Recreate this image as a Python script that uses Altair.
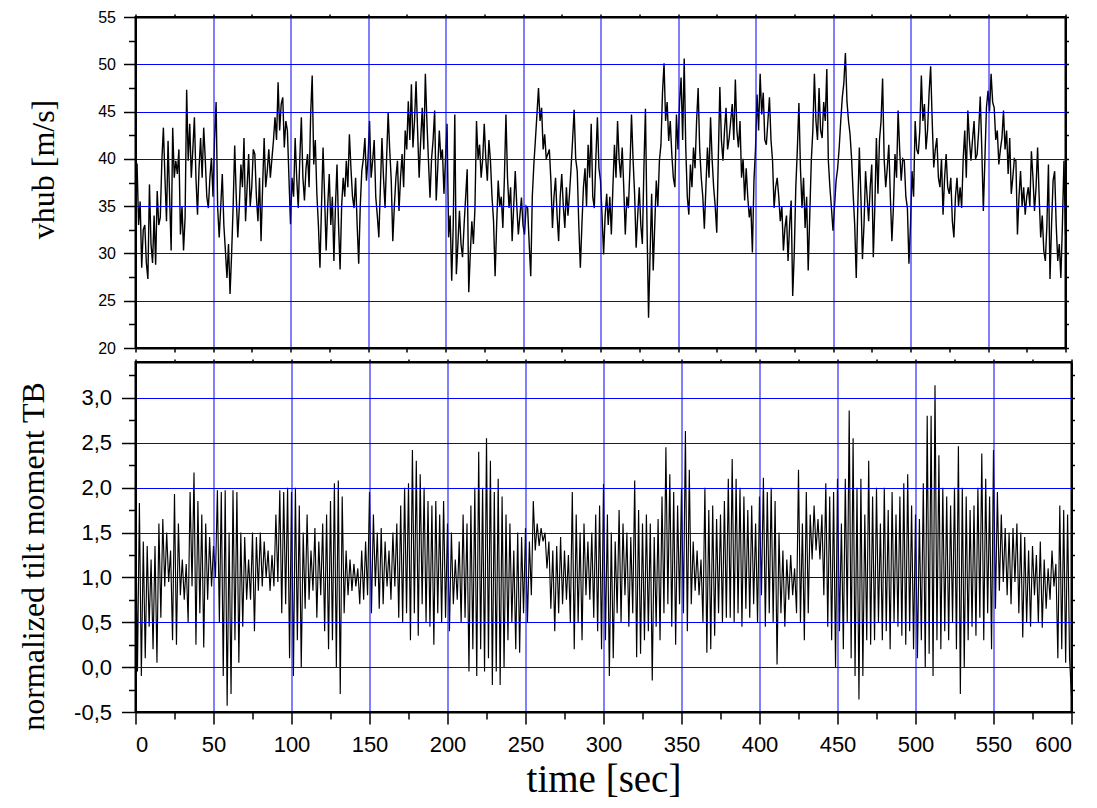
import altair as alt
import pandas as pd

# ---------------- data ----------------
# hub wind speed [m/s], one value per second (0 ... 600 s), ten values per row
vhub_dt = 1.0
vhub = [
    37.5, 39.5, 33, 35.5, 28.5, 32.5, 33, 29, 27.3, 37.3,          # 0
    31, 29, 34, 28.8, 36.6, 33, 33.8, 39.8, 43.3, 38,
    33.4, 41.9, 36, 30.3, 43.3, 38, 39.8, 38.4, 41, 32,
    35, 30.3, 33.8, 47.3, 39.8, 43.7, 38, 41, 44.4, 38,
    34.1, 39, 42.2, 38, 43.3, 40, 36, 34.8, 38, 40.1,
    36, 42, 46, 34.8, 31.7, 35, 38.4, 33, 30.3, 27.4,              # 50
    31, 25.7, 29.9, 35, 41.4, 36, 31.7, 35, 39.4, 37,
    42.2, 33.4, 37, 40.5, 35, 37, 41, 40.5, 36, 33.4,
    38, 31.3, 37, 42.2, 37, 38.7, 41, 38, 40, 41.9,
    44.4, 42, 48.1, 43, 45.8, 46.5, 41.2, 44, 43, 38,
    33.1, 38, 36, 42.2, 38, 34.8, 40, 44.4, 38, 35.6,              # 100
    39, 40.5, 37, 44.7, 48.8, 39.4, 42, 36.3, 33, 28.5,
    35, 41.2, 36, 30.3, 35, 38.4, 33, 36, 29.2, 35,
    39.4, 33, 28.3, 35, 38, 36, 39.8, 37, 42.6, 39,
    36, 34.8, 38, 33, 28.9, 35, 38.7, 40, 42.2, 37.7,
    40, 44, 38, 39.8, 42, 36, 34, 31.7, 37, 42.2,                  # 150
    38, 34.8, 40, 44.9, 41, 37.7, 31.3, 35, 38, 39.8,
    34.5, 38, 40.5, 37, 43, 41, 46.1, 42, 47.9, 41.2,
    44, 48.2, 43, 38, 42, 45.4, 41, 49, 44, 39.8,
    35.9, 40, 42, 45.1, 35.6, 39, 43, 40, 41, 36.3,
    40, 43.7, 31.7, 34, 27.1, 33, 44.7, 27.8, 31, 34.5,            # 200
    31, 29.6, 33, 36, 38.9, 25.9, 30, 33.4, 31, 34.8,
    44, 40, 41.5, 38, 40, 43.7, 40, 37.7, 42, 39.8,
    36, 33.4, 27.6, 33, 37.7, 35, 36, 32.7, 38, 44.7,
    38, 34.8, 37, 31.3, 35, 38.7, 35, 32, 34, 35.9,
    33, 32, 35, 34.8, 31, 27.6, 36, 39.4, 42, 44.7,                # 250
    47.5, 44, 45.4, 41, 42.6, 40, 40.5, 41, 37.7, 32.7,
    36, 38, 34, 31.3, 36, 38.4, 35, 32.7, 37, 34,
    36.3, 39, 42, 45.2, 40, 38.7, 33, 28.5, 33, 37,
    39, 35, 41.5, 38, 43.7, 36, 34.8, 40, 44.4, 39,
    37.7, 34, 29.9, 34, 36.3, 33, 36, 32, 37, 41.5,                # 300
    38, 44, 40, 38, 41.2, 37, 32, 36, 34.8, 39,
    44.7, 40, 36.3, 30.6, 34, 37, 33, 31, 39, 45.3,
    33, 23.2, 30, 36.3, 28.2, 33, 37.7, 35, 39.8, 41.5,
    47, 50.1, 44, 46, 41.9, 44, 40.5, 38, 37, 44.7,
    41, 46, 48.6, 42, 50.6, 41.2, 36, 34.1, 39.4, 37,              # 350
    41.2, 39, 44, 47.5, 41, 38, 36, 32.6, 37, 41.2,
    38, 44.4, 40, 37, 35, 32.2, 40, 47.6, 42, 39.8,
    43, 45.4, 41, 42.2, 44, 45.8, 42, 48.4, 43, 41.2,
    44, 38, 40, 35.6, 39, 36, 33.8, 35, 30.1, 37.7,
    41, 46.8, 43, 49, 44.7, 47, 42, 41.5, 44, 46.5,                # 400
    42, 39.8, 34.8, 37, 38, 36, 33.4, 35, 30.3, 32.7,
    34, 29.2, 33, 35.6, 25.5, 30, 37, 41, 45.9, 39,
    34.8, 38, 32.7, 36, 28.2, 34, 39.8, 43, 49, 44,
    42, 47.5, 43, 42.2, 46, 44, 49.5, 39.8, 37, 34.8,
    32.4, 35, 37.7, 39, 41.2, 44, 46.5, 48, 51.2, 46.1,            # 450
    44, 42.6, 40, 36.3, 33, 27.4, 35, 41.2, 36, 29.4,
    33, 38.7, 36, 33.4, 37, 39.4, 29.6, 35, 42.2, 36.3,
    42, 44, 48.5, 40, 37, 39, 41.5, 36, 31.3, 35,
    40.5, 38, 45.1, 41, 37.7, 40, 39.8, 36, 34.8, 28.9,
    33, 38.7, 36, 44, 41, 40.5, 43, 48.8, 44, 45.8,                # 500
    41, 43, 47, 49.8, 44, 39.1, 41, 42.2, 38, 37,
    40, 34.1, 38, 40.5, 37, 36.3, 38, 33.4, 31.7, 36,
    38, 35, 37, 34.8, 40, 43, 38, 45.1, 42, 39.8,
    42, 44, 40, 40.5, 43, 46.6, 41, 34.5, 40, 45.4,
    47.2, 45, 49, 46, 45.4, 42, 43, 39.4, 41, 42.2,                # 550
    45.1, 41, 43, 38.4, 42.2, 36.3, 38, 40, 39.8, 32,
    36, 38.7, 35, 37, 34.1, 36, 37, 35, 40.8, 38,
    34.5, 37, 41.2, 36, 31.7, 34, 30.3, 29.2, 33, 39.4,
    27.3, 33, 37.7, 38.7, 33, 29.2, 31, 27.4, 33, 39.8,
    32,                                                            # 600
]

# normalized tilt moment TB, one value every 1.25 s (alternating peaks / troughs)
tilt_dt = 1.25
tilt = [
    1.95, -0.05, 1.83, -0.1, 1.4, 0.1, 1.35, 0.45,      # 0-10
    1.2, 0.2, 1.35, 0.05, 1.6, 0.55, 1.65, 0.9,
    1.5, 0.95, 1.3, 0.3, 1.93, 0.25, 1.6, 0.8,
    1.2, 0.75, 1.15, 0.5, 1.95, 0.9, 2.17, 0.25,
    1.85, 0.6, 1.7, 0.22, 1.6, 0.75, 1.45, 0.9,
    1.35, 1.0, 1.97, 0.5, 1.95, -0.1, 1.97, -0.43,      # 50-60
    1.5, -0.3, 1.97, 0.3, 1.95, 0.05, 1.5, 0.45,
    1.45, 0.75, 1.2, 0.75, 1.5, 0.4, 1.45, 0.85,
    1.5, 0.9, 1.4, 1.0, 1.3, 0.85, 1.25, 0.9,
    1.7, 0.95, 1.97, 0.6, 1.95, 0.7, 2.0, 0.1,
    1.95, -0.1, 2.0, 0.3, 1.8, 0.0, 1.5, 0.65,          # 100-110
    1.7, 0.75, 1.3, 0.85, 1.55, 0.55, 1.4, 0.8,
    1.6, 0.4, 1.7, 0.2, 1.85, 0.3, 2.05, 0.0,
    2.08, -0.3, 1.9, 0.6, 1.3, 0.8, 1.2, 0.85,
    1.15, 0.9, 1.1, 0.7, 1.3, 0.75, 1.4, 0.8,
    1.95, 0.6, 1.7, 0.9, 1.5, 0.65, 1.55, 0.7,          # 150-160
    1.4, 0.9, 1.3, 0.75, 1.5, 0.9, 1.6, 0.55,
    1.8, 0.5, 2.0, 0.6, 2.05, 0.3, 2.42, 0.6,
    2.3, 0.35, 2.15, 0.7, 2.0, 0.5, 1.85, 0.45,
    1.8, 0.25, 1.85, 0.6, 1.7, 0.5, 1.85, 0.55,
    1.6, 0.4, 1.5, 0.7, 1.2, 0.75, 1.4, 0.5,            # 200-210
    1.7, 0.55, 1.6, -0.05, 1.8, 0.2, 2.0, -0.1,
    2.4, 0.2, 2.0, -0.05, 2.55, 0.1, 2.3, -0.2,
    1.95, -0.05, 2.1, -0.2, 1.9, 0.0, 1.7, 0.3,
    1.6, 0.5, 1.3, 0.2, 1.5, 0.16, 1.45, 0.6,
    1.55, 0.5, 1.4, 0.8, 1.85, 1.3, 1.6, 1.35,          # 250-260
    1.55, 1.4, 1.5, 1.1, 1.4, 0.65, 1.3, 0.4,
    1.35, 0.6, 1.45, 0.7, 1.3, 0.75, 1.25, 0.5,
    1.95, 0.2, 1.7, 0.5, 1.5, 0.3, 1.6, 0.8,
    1.4, 0.75, 1.5, 0.55, 1.7, 0.4, 1.8, 0.2,
    2.04, 0.3, 1.7, -0.1, 1.5, 0.1, 1.4, 0.6,           # 300-310
    1.75, 0.5, 1.6, 0.8, 1.5, 0.45, 1.45, 0.6,
    2.08, 0.11, 1.75, 0.15, 1.6, 0.3, 1.7, 0.4,
    1.6, -0.15, 1.45, 0.45, 1.65, 0.3, 1.9, 0.6,
    2.45, 0.7, 2.15, 0.45, 1.95, 0.25, 1.8, 0.7,
    2.0, 0.6, 2.63, 0.4, 2.2, 0.7, 1.4, 0.85,           # 350-360
    1.3, 0.8, 1.2, 0.5, 2.0, 0.16, 1.75, 0.2,
    1.8, 0.35, 1.65, 0.6, 1.7, 0.5, 1.85, 0.55,
    2.1, 0.55, 2.32, 0.5, 2.1, 0.6, 2.0, 0.45,
    1.9, 0.65, 1.75, 0.55, 1.8, 0.7, 1.6, 0.5,
    1.9, 0.8, 2.11, 0.45, 1.95, 0.6, 2.0, 0.5,          # 400-410
    1.85, 0.03, 1.5, 0.6, 1.3, 0.45, 1.2, 0.75,
    1.25, 0.8, 1.1, 0.6, 2.2, 0.5, 1.6, 0.3,
    1.95, 0.6, 1.7, 1.2, 1.8, 1.3, 1.65, 1.2,
    1.7, 0.8, 2.05, 0.45, 1.9, 0.3, 1.95, 0.0,
    2.1, 0.4, 1.6, 0.2, 2.1, 0.5, 2.86, 0.1,            # 450-460
    2.55, -0.1, 2.0, -0.36, 2.1, -0.1, 1.7, 0.3,
    2.3, 0.25, 1.9, 0.3, 2.0, 0.5, 1.6, 0.3,
    2.0, 0.4, 1.75, 0.2, 1.95, 0.5, 1.7, 0.45,
    1.9, 0.35, 2.05, 0.25, 2.15, 0.4, 1.8, 0.2,
    1.7, 0.1, 1.65, 0.3, 2.05, 0.0, 2.8, 0.15,          # 500-510
    2.8, -0.1, 3.14, 0.3, 2.36, 0.2, 2.0, 0.4,
    1.9, 0.3, 1.8, 0.5, 2.0, 0.2, 2.46, -0.3,
    2.0, 0.0, 1.9, 0.3, 1.75, 0.45, 1.8, 0.35,
    2.0, 0.55, 2.38, 0.3, 2.1, 0.6, 1.9, 0.2,
    2.42, 0.65, 1.95, 0.85, 1.7, 0.95, 1.55, 0.8,       # 550-560
    1.5, 0.7, 1.55, 0.95, 1.6, 0.6, 1.5, 0.33,
    1.45, 0.5, 1.3, 0.45, 1.35, 0.8, 1.25, 0.5,
    1.4, 0.44, 1.2, 0.65, 1.1, 0.75, 1.3, 0.9,
    1.15, 0.1, 1.8, 0.2, 1.75, 0.05, 1.7, 0.1,
    -0.32,                                              # 600
]

x_tick_values = list(range(0, 601, 25))
vhub_tick_values = [20 + 2.5 * i for i in range(15)]
tilt_tick_values = [-0.5 + 0.25 * i for i in range(16)]

top_df = pd.DataFrame({"time": [i * vhub_dt for i in range(len(vhub))], "vhub": vhub})
bot_df = pd.DataFrame({"time": [i * tilt_dt for i in range(len(tilt))], "tilt": tilt})

GRID = "#0000ff"
x_scale = alt.Scale(domain=[0, 600], nice=False, zero=False)
vhub_scale = alt.Scale(domain=[20, 55], nice=False, zero=False)
tilt_scale = alt.Scale(domain=[-0.5, 3.4], nice=False, zero=False)


def cond(test, a, b):
    return {"condition": {"test": test, "value": a}, "value": b}


X_MAJOR = "datum.value % 50 === 0"
X_GRID = "datum.value % 50 === 0 && datum.value > 0 && datum.value < 600"
V_MAJOR = "datum.value % 5 === 0"
V_GRID = "datum.value % 5 === 0 && datum.value > 20 && datum.value < 55"
T_MAJOR = "abs(datum.value * 2 - round(datum.value * 2)) < 0.000001"
T_GRID = T_MAJOR + " && datum.value > -0.4"

# ---------------- top panel ----------------
top_line = alt.Chart(top_df).mark_line(color="black", strokeWidth=1.4).encode(
    x=alt.X("time:Q", scale=x_scale, axis=alt.Axis(
        orient="bottom", values=x_tick_values, labels=False, title=None,
        tickSize=4, grid=True, gridColor=GRID, gridWidth=1,
        gridOpacity=cond(X_GRID, 1, 0), zindex=1)),
    y=alt.Y("vhub:Q", scale=vhub_scale, axis=alt.Axis(
        orient="left", values=vhub_tick_values,
        labelExpr="datum.value % 5 === 0 ? datum.label : ''",
        tickSize=cond(V_MAJOR, 12, 7), labelFontSize=16, labelPadding=8,
        grid=True, gridColor=GRID, gridWidth=1, gridOpacity=cond(V_GRID, 1, 0),
        title="vhub [m/s]", titleFontSize=32, titleX=-92, titleY=152,
        titleBaseline="middle", zindex=1)),
)
top_frame = alt.Chart(top_df).mark_line(opacity=0).encode(
    x=alt.X("time:Q", scale=x_scale, axis=alt.Axis(
        orient="top", values=x_tick_values, labels=False, title=None,
        tickSize=3, grid=False)),
    y=alt.Y("vhub:Q", scale=vhub_scale, axis=alt.Axis(
        orient="right", values=vhub_tick_values, labels=False, title=None,
        tickSize=3, grid=False)),
)
top = alt.layer(top_line, top_frame).resolve_axis(
    x="independent", y="independent").properties(width=930, height=331)

# ---------------- bottom panel ----------------
bot_line = alt.Chart(bot_df).mark_line(color="black", strokeWidth=1.15).encode(
    x=alt.X("time:Q", scale=x_scale, axis=alt.Axis(
        orient="bottom", values=x_tick_values,
        labelExpr="datum.value % 50 === 0 ? datum.label : ''",
        tickSize=cond(X_MAJOR, 12, 7), labelFontSize=22, labelPadding=10,
        grid=True, gridColor=GRID, gridWidth=1, gridOpacity=cond(X_GRID, 1, 0),
        title="time [sec]", titleFontSize=39, titleY=67, titleBaseline="middle",
        zindex=1)),
    y=alt.Y("tilt:Q", scale=tilt_scale, axis=alt.Axis(
        orient="left", values=tilt_tick_values,
        labelExpr=("(" + T_MAJOR + ") ? ((datum.value < 0 ? '-' : '') + "
                   "replace(format(abs(datum.value), '.1f'), '.', ',')) : ''"),
        tickSize=cond(T_MAJOR, 14, 7), labelFontSize=22, labelPadding=10,
        grid=True, gridWidth=1,
        gridColor=cond("abs(datum.value - 1) < 0.000001", "#000080", GRID),
        gridOpacity=cond(T_GRID, 1, 0),
        title="normalized tilt moment TB", titleFontSize=32, titleX=-102,
        titleY=194, titleBaseline="middle", zindex=1)),
)
bot_frame = alt.Chart(bot_df).mark_line(opacity=0).encode(
    x=alt.X("time:Q", scale=x_scale, axis=alt.Axis(
        orient="top", values=x_tick_values, labels=False, title=None,
        tickSize=3, grid=False)),
    y=alt.Y("tilt:Q", scale=tilt_scale, axis=alt.Axis(
        orient="right", values=tilt_tick_values, labels=False, title=None,
        tickSize=3, grid=False)),
)
bottom = alt.layer(bot_line, bot_frame).resolve_axis(
    x="independent", y="independent").properties(width=936, height=350)

chart = alt.vconcat(top, bottom, spacing=14, bounds="flush").properties(
    padding={"left": 7.5, "top": 0, "right": 5, "bottom": 5}
).configure_view(
    stroke="black", strokeWidth=2
).configure_axis(
    domainColor="black", domainWidth=2, tickColor="black", tickWidth=1.5,
    labelColor="black", labelFont="Liberation Sans",
    titleFont="Liberation Serif", titleColor="black", titleFontWeight="normal",
)

chart.save("out.html", embed_options={"renderer": "svg", "actions": False})
